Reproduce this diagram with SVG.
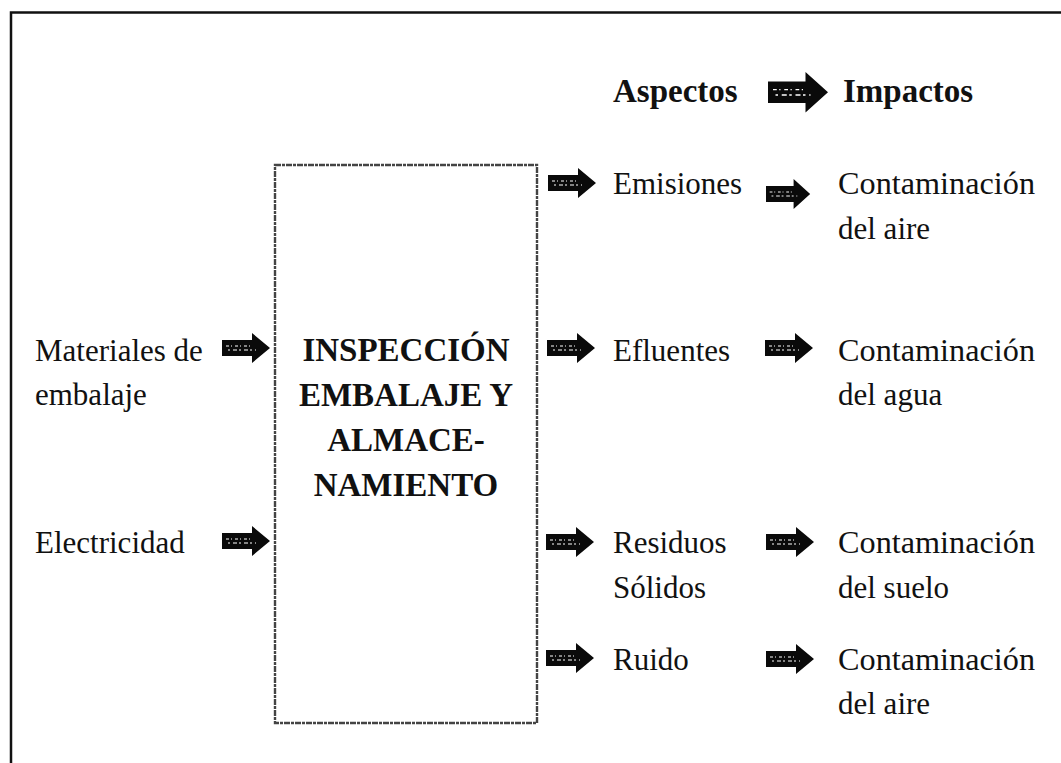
<svg xmlns="http://www.w3.org/2000/svg" width="1061" height="763" viewBox="0 0 1061 763">
<style>
.t{font-family:"Liberation Serif","Times New Roman",serif;font-size:31px;fill:#111}
.b{font-family:"Liberation Serif","Times New Roman",serif;font-size:33px;font-weight:bold;fill:#111}
.frame{stroke:#111;stroke-width:2.5;fill:none}
.box{stroke:#444;stroke-width:2.4;fill:none;stroke-dasharray:6 1 3 1}
</style>
<defs>
<g id="arr">
<polygon points="0,7 30,7 30,0 48,15 30,30 30,23 0,23" fill="#0a0a0a"/>
<line x1="4" y1="13" x2="30" y2="13" stroke="#fff" stroke-width="1" stroke-dasharray="3 2 1 3"/>
<line x1="6" y1="17" x2="34" y2="17" stroke="#fff" stroke-width="1" stroke-dasharray="2 3 4 2"/>
</g>
</defs>
<path class="frame" d="M11,763 V12.5 H1061"/>
<g id="box">
<rect class="box" x="275" y="165" width="262" height="558"/>
<text class="b" text-anchor="middle" x="406" y="361">INSPECCIÓN</text>
<text class="b" text-anchor="middle" x="406" y="406">EMBALAJE Y</text>
<text class="b" text-anchor="middle" x="406" y="451">ALMACE-</text>
<text class="b" text-anchor="middle" x="406" y="496">NAMIENTO</text>
</g>
<g id="header">
<text class="b" x="613" y="102">Aspectos</text>
<text class="b" x="843" y="102">Impactos</text>
</g>
<g id="in-materiales"><text class="t" x="35" y="361">Materiales de</text><text class="t" x="35" y="405">embalaje</text></g>
<g id="in-electricidad"><text class="t" x="35" y="553">Electricidad</text></g>
<g id="asp-emisiones"><text class="t" x="613" y="194">Emisiones</text></g>
<g id="asp-efluentes"><text class="t" x="613" y="361">Efluentes</text></g>
<g id="asp-residuos"><text class="t" x="613" y="553">Residuos</text><text class="t" x="613" y="598">Sólidos</text></g>
<g id="asp-ruido"><text class="t" x="613" y="670">Ruido</text></g>
<g id="imp-aire1"><text class="t" x="838" y="194" textLength="197" lengthAdjust="spacingAndGlyphs">Contaminación</text><text class="t" x="838" y="239">del aire</text></g>
<g id="imp-agua"><text class="t" x="838" y="361" textLength="197" lengthAdjust="spacingAndGlyphs">Contaminación</text><text class="t" x="838" y="405">del agua</text></g>
<g id="imp-suelo"><text class="t" x="838" y="553" textLength="197" lengthAdjust="spacingAndGlyphs">Contaminación</text><text class="t" x="838" y="598">del suelo</text></g>
<g id="imp-aire2"><text class="t" x="838" y="670" textLength="197" lengthAdjust="spacingAndGlyphs">Contaminación</text><text class="t" x="838" y="714">del aire</text></g>
<g id="connectors">
<use href="#arr" transform="translate(768,72) scale(1.25,1.35)"/>
<use href="#arr" transform="translate(548,168)"/>
<use href="#arr" transform="translate(766,179) scale(0.92,1)"/>
<use href="#arr" transform="translate(222,333)"/>
<use href="#arr" transform="translate(222,526)"/>
<use href="#arr" transform="translate(547,333)"/>
<use href="#arr" transform="translate(765,333)"/>
<use href="#arr" transform="translate(546,527)"/>
<use href="#arr" transform="translate(766,527)"/>
<use href="#arr" transform="translate(546,643)"/>
<use href="#arr" transform="translate(766,644)"/>
</g>
</svg>
